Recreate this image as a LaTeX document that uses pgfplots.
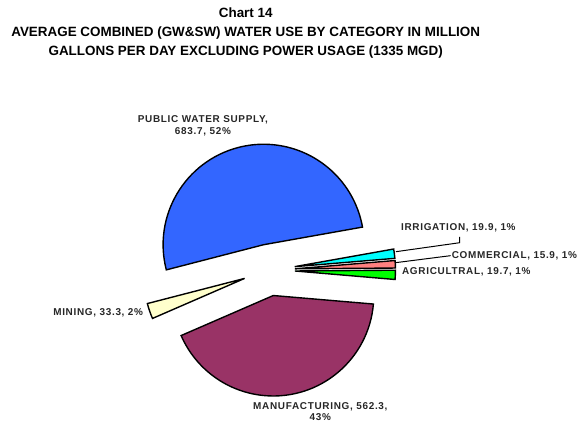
\documentclass[border=0pt]{standalone}
\usepackage{pgfplots}
\usepackage{pgfplotstable}
\pgfplotsset{compat=1.18}
\usepackage{fontspec}
\setmainfont{Liberation Sans}
\newfontfamily\labelfont[LetterSpace=7]{Liberation Sans}

\definecolor{cpublic}{HTML}{3366FF}
\definecolor{cirr}{HTML}{00FFFF}
\definecolor{ccom}{HTML}{FF8080}
\definecolor{cagr}{HTML}{00FF00}
\definecolor{cman}{HTML}{993366}
\definecolor{cmin}{HTML}{FFFFCC}

\pgfplotstableread[col sep=comma]{
name,value,color
PUBLIC WATER SUPPLY,683.7,cpublic
IRRIGATION,19.9,cirr
COMMERCIAL,15.9,ccom
AGRICULTRAL,19.7,cagr
MANUFACTURING,562.3,cman
MINING,33.3,cmin
}\piedata

\begin{document}
\begin{tikzpicture}
\begin{axis}[
  scale only axis, width=577pt, height=425pt,
  xmin=0, xmax=577, ymin=0, ymax=425,
  hide axis, clip=false, enlargelimits=false]
\path (axis cs:0,0) rectangle (axis cs:577,425);
% total
\gdef\total{0}
\pgfplotsforeachungrouped \i in {0,...,5}{%
  \pgfplotstablegetelem{\i}{value}\of\piedata
  \pgfmathsetmacro\tmp{\total+\pgfplotsretval}%
  \global\let\total\tmp
}
\gdef\startang{194.5}
\def\cx{270.5}\def\cy{153.6}\def\explode{26}\def\rad{101}
\pgfplotsforeachungrouped \i in {0,...,5}{%
  \pgfplotstablegetelem{\i}{value}\of\piedata \let\val\pgfplotsretval
  \pgfplotstablegetelem{\i}{color}\of\piedata \let\col\pgfplotsretval
  \pgfmathsetmacro\spanang{\val/\total*360}%
  \pgfmathsetmacro\endang{\startang-\spanang}%
  \pgfmathsetmacro\midang{(\startang+\endang)/2}%
  \pgfmathsetmacro\ax{\cx+\explode*cos(\midang)}%
  \pgfmathsetmacro\ay{\cy+\explode*sin(\midang)}%
  \pgfmathsetmacro\bx{\ax+\rad*cos(\startang)}%
  \pgfmathsetmacro\by{\ay+\rad*sin(\startang)}%
  \edef\temp{\noexpand\filldraw[fill=\col,draw=black,line width=1.4pt,line join=miter]
    (axis cs:\ax,\ay) -- (axis cs:\bx,\by)
    arc[start angle=\startang,end angle=\endang,radius=\rad pt] -- cycle;}%
  \temp
  \global\let\startang\endang
}
% title
\node[font=\bfseries\fontsize{13.5}{19}\selectfont, align=center, anchor=north]
  at (axis cs:247,425-4) {Chart 14\\AVERAGE COMBINED (GW\&SW) WATER USE BY CATEGORY IN MILLION\\GALLONS PER DAY EXCLUDING POWER USAGE (1335 MGD)};
% labels
\tikzset{lbl/.style={font=\labelfont\bfseries\fontsize{10}{11.5}\selectfont, text=black!85, inner sep=0pt}}
\node[lbl, align=center] at (axis cs:204,425-126.5) {PUBLIC WATER SUPPLY,\\683.7, 52\%};
\node[lbl, anchor=west] at (axis cs:403,425-229) {IRRIGATION, 19.9, 1\%};
\node[lbl, anchor=west] at (axis cs:454,425-257) {COMMERCIAL, 15.9, 1\%};
\node[lbl, anchor=west] at (axis cs:404,425-273) {AGRICULTRAL, 19.7, 1\%};
\node[lbl, anchor=east] at (axis cs:144,425-314) {MINING, 33.3, 2\%};
\node[lbl, align=center] at (axis cs:322,425-414) {MANUFACTURING, 562.3,\\43\%};
% leader lines
\draw[line width=1pt] (axis cs:462,425-238) -- (axis cs:462,425-244) -- (axis cs:398,425-253);
\draw[line width=1pt] (axis cs:453,425-257) -- (axis cs:398,425-264);
\end{axis}
\end{tikzpicture}
\end{document}
